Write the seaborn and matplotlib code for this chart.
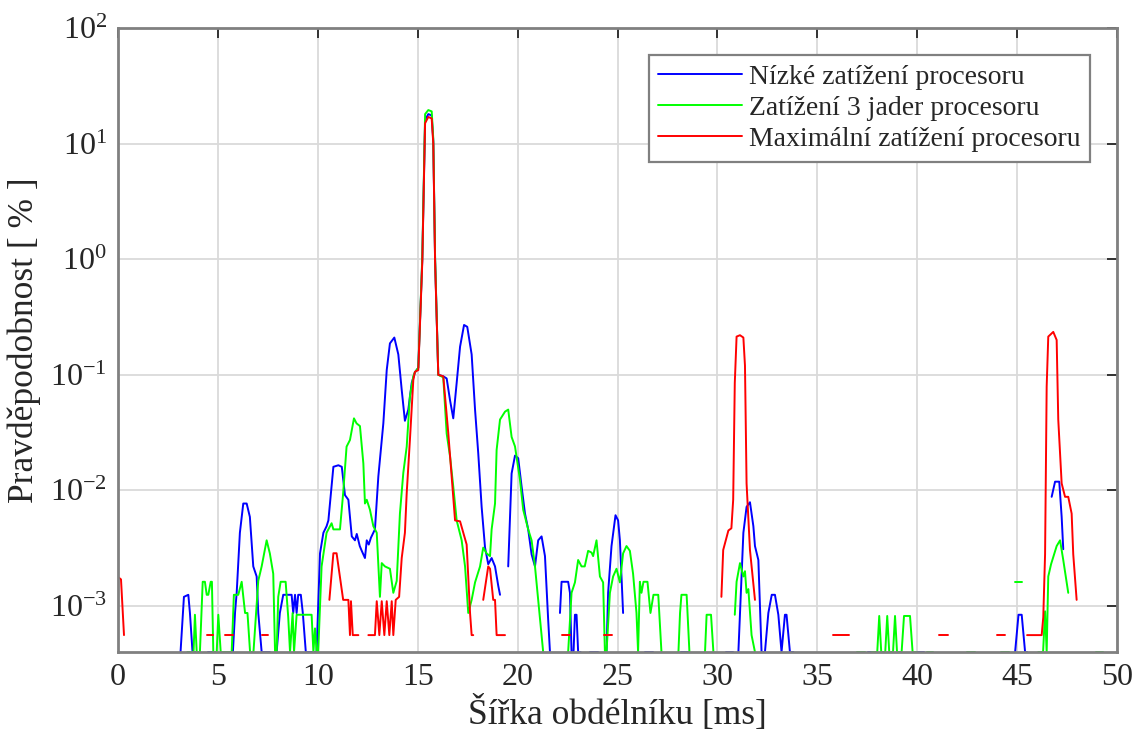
import numpy as np
import pandas as pd
import matplotlib
matplotlib.use("Agg")
import matplotlib.pyplot as plt
import seaborn as sns
from matplotlib.ticker import NullLocator

N = np.nan
FLOOR = 4e-4  # values at/below the lower axis limit

series_names = ["Nízké zatížení procesoru",
                "Zatížení 3 jader procesoru",
                "Maximální zatížení procesoru"]

# ---------------- Nízké zatížení (blue) ----------------
blue_x = [3.13, 3.3, 3.52, 3.6, 3.73, 4.1, N,
          4.52, 4.77, N,
          5.75, 5.86, 5.94, 6.1, 6.27, 6.44, 6.6, 6.77, 6.94, 7.02, 7.19, 7.6, N,
          7.94, 8.1, 8.27, 8.69, 8.77, 8.86, 8.94, 9.02, 9.15, 9.25, 9.4, 9.94,
          10.11, 10.28, 10.44, 10.53, 10.78, 11.03, 11.2, 11.36, 11.53, 11.7, 11.86,
          11.95, 12.03, 12.1, 12.2, 12.36, 12.45, 12.55, 12.66, 12.86, 13.03, 13.28,
          13.45, 13.61, 13.83, 14.03, 14.2, 14.36, 14.53, 14.7, 14.86, 15.03, 15.23,
          15.37, 15.53, 15.7, 15.78, 15.87, 16.03, 16.28, 16.45, 16.62, 16.78, 16.95,
          17.12, 17.32, 17.48, 17.7, 17.87, 18.03, 18.2, 18.37, 18.53, 18.7, 18.87,
          19.03, 19.12, N,
          19.53, 19.7, 19.87, 20.03, 20.2, 20.37, 20.53, 20.7, 20.87, 21.03, 21.2,
          21.37, 21.53, 21.62, N,
          22.12, 22.2, 22.53, 22.62, 22.7, 22.8, 22.87, 22.95, 23.03, 23.15, N,
          23.6, 24.0, N,
          24.45, 24.53, 24.7, 24.9, 25.03, 25.12, 25.2, 25.28, N,
          26.4, 26.8, N,
          28.2, 28.6, N,
          30.45, 30.8, N,
          31.05, 31.3, 31.46, 31.63, 31.8, 31.88, 32.05, 32.21, 32.38, 32.55, 32.72,
          32.88, 33.05, 33.21, 33.38, 33.46, 33.63, 33.8, N,
          37.55, 37.9, N,
          40.0, 40.35, N,
          44.9, 45.07, 45.23, 45.4, 45.5, N,
          46.73, 46.9, 47.11, 47.23, 47.31]
blue_y = [FLOOR, 1.2e-3, 1.25e-3, 8.7e-4, FLOOR, FLOOR, N,
          FLOOR, FLOOR, N,
          FLOOR, 8.9e-4, 1.3e-3, 4.3e-3, 7.7e-3, 7.7e-3, 5.9e-3, 2.2e-3, 1.8e-3, 8.7e-4, FLOOR, FLOOR, N,
          FLOOR, 8.7e-4, 1.25e-3, 1.25e-3, 8.7e-4, 1.25e-3, 8.7e-4, 1.25e-3, 1.25e-3, 8.7e-4, FLOOR, FLOOR,
          2.85e-3, 4.3e-3, 4.9e-3, 5.5e-3, 0.016, 0.0165, 0.016, 9.1e-3, 8.3e-3, 4.0e-3, 3.7e-3,
          4.2e-3, 3.7e-3, 3.3e-3, 3.0e-3, 2.6e-3, 3.7e-3, 3.4e-3, 3.9e-3, 4.6e-3, 0.0132, 0.038,
          0.11, 0.187, 0.21, 0.15, 0.074, 0.04, 0.05, 0.085, 0.105, 0.115, 1.0,
          16.0, 18.0, 17.5, 10.5, 1.0, 0.1, 0.097, 0.093, 0.06, 0.042, 0.085,
          0.175, 0.27, 0.26, 0.15, 0.05, 0.021, 7.2e-3, 3.2e-3, 2.3e-3, 2.6e-3, 2.2e-3,
          1.5e-3, 1.25e-3, N,
          2.2e-3, 0.014, 0.02, 0.019, 0.0108, 6.3e-3, 4.6e-3, 2.8e-3, 2.2e-3, 3.7e-3, 4.0e-3,
          2.7e-3, 7.6e-4, FLOOR, N,
          8.7e-4, 1.62e-3, 1.62e-3, 1.3e-3, FLOOR, FLOOR, 8.4e-4, 8.4e-4, FLOOR, FLOOR, N,
          FLOOR, FLOOR, N,
          FLOOR, 1.3e-3, 3.3e-3, 6.1e-3, 5.5e-3, 3.7e-3, 1.8e-3, 8.7e-4, N,
          FLOOR, FLOOR, N,
          FLOOR, FLOOR, N,
          FLOOR, FLOOR, N,
          FLOOR, 4.3e-3, 7.2e-3, 7.9e-3, 4.9e-3, 3.3e-3, 2.5e-3, FLOOR, FLOOR, 8.7e-4, 1.25e-3,
          1.25e-3, 8.4e-4, FLOOR, 8.4e-4, 8.4e-4, FLOOR, FLOOR, N,
          FLOOR, FLOOR, N,
          FLOOR, FLOOR, N,
          FLOOR, 8.4e-4, 8.4e-4, FLOOR, FLOOR, N,
          8.8e-3, 0.0119, 0.0119, 5.9e-3, 3.1e-3]

# ---------------- Zatížení 3 jader (green) ----------------
green_x = [3.47, 3.78, 3.85, 3.94, 4.1, 4.24, 4.35, 4.44, 4.52, 4.64, 4.7, 4.77, 4.94, 5.02,
           5.14, 5.35, 5.69, 5.8, 6.02, 6.19, 6.36, 6.48, 6.61, 6.78, 7.02, 7.19, 7.44, 7.6,
           7.77, 7.86, 7.94, 8.02, 8.14, 8.39, 8.52, 8.61, 8.74, 8.81, 8.94, 9.69, 9.78, 9.86,
           9.94, 10.02, 10.19, 10.44, 10.69, 10.78, 11.11, 11.27, 11.44, 11.61, 11.81, 11.94,
           12.11, 12.28, 12.36, 12.45, 12.61, 12.78, 12.95, 13.11, 13.2, 13.36, 13.61, 13.78,
           13.95, 14.11, 14.28, 14.45, 14.61, 14.78, 14.86, 15.03, 15.23, 15.37, 15.53, 15.7,
           15.78, 15.87, 16.03, 16.28, 16.45, 16.62, 16.78, 16.95, 17.2, 17.37, 17.53, 17.7,
           17.87, 18.12, 18.28, 18.45, 18.62, 18.7, 18.87, 18.95, 19.12, 19.37, 19.53, 19.7,
           19.87, 20.12, 20.28, 20.53, 20.7, 20.87, 21.03, 21.28, N,
           22.53, 22.7, 22.87, 23.03, 23.2, 23.36, 23.53, 23.7, 23.78, 23.95, 24.12, 24.28,
           24.37, 24.45, 24.62, 24.78, 24.95, 25.12, 25.28, 25.45, 25.62, 25.78, 25.95, 26.03,
           26.12, 26.2, 26.3, 26.5, 26.65, 26.8, 27.04, 27.2, N,
           28.05, 28.13, 28.2, 28.46, 28.6, N,
           29.38, 29.46, 29.68, 29.8, N,
           30.87, 30.96, 31.13, 31.3, 31.38, 31.46, 31.55, 31.71, 31.88, N,
           36.97, 37.4, N,
           37.72, 38.0, 38.1, 38.2, 38.4, 38.5, 38.6, 38.79, 38.89, 38.99, 39.22, 39.34,
           39.64, 39.77, 39.97, N,
           40.47, 40.8, N,
           42.47, 42.9, N,
           44.2, 44.6, N,
           44.9, 45.23, N,
           46.06, 46.3, 46.4, 46.48, 46.56, 46.7, 46.98, 47.15, 47.31, 47.56, N,
           48.97, 49.3]
green_y = [FLOOR, FLOOR, 8.4e-4, FLOOR, FLOOR, 1.62e-3, 1.62e-3, 1.25e-3, 1.25e-3, 1.62e-3, 1.62e-3, FLOOR, FLOOR, 8.4e-4,
           FLOOR, FLOOR, FLOOR, 1.25e-3, 1.25e-3, 1.62e-3, 8.7e-4, 8.7e-4, FLOOR, FLOOR, 1.65e-3, 2.2e-3, 3.7e-3, 2.85e-3,
           1.9e-3, FLOOR, FLOOR, 1.2e-3, 1.62e-3, 1.62e-3, 8.0e-4, FLOOR, 8.7e-4, FLOOR, 8.4e-4, 8.4e-4, FLOOR, 6.4e-4,
           FLOOR, FLOOR, 2.2e-3, 4.3e-3, 5.2e-3, 4.6e-3, 4.6e-3, 9.5e-3, 0.0239, 0.0273, 0.042, 0.038,
           0.036, 0.0171, 7.7e-3, 8.3e-3, 6.8e-3, 4.9e-3, 4.3e-3, 1.2e-3, 2.35e-3, 2.2e-3, 2.1e-3, 1.3e-3,
           1.65e-3, 6.3e-3, 0.0142, 0.0239, 0.065, 0.097, 0.105, 0.115, 1.05, 18.0, 19.5, 19.0,
           11.0, 1.05, 0.1, 0.095, 0.031, 0.0196, 0.0108, 5.5e-3, 3.7e-3, 2.2e-3, 8.7e-4, 1.13e-3,
           1.6e-3, 2.2e-3, 3.2e-3, 2.85e-3, 2.7e-3, 4.6e-3, 7.7e-3, 0.0224, 0.041, 0.048, 0.05, 0.029,
           0.024, 0.0123, 6.8e-3, 4.6e-3, 3.7e-3, 2.2e-3, 1.13e-3, FLOOR, N,
           FLOOR, 1.3e-3, 1.6e-3, 2.5e-3, 2.2e-3, 2.2e-3, 3.0e-3, 2.9e-3, 2.7e-3, 3.7e-3, 1.8e-3, 1.6e-3,
           FLOOR, FLOOR, 1.3e-3, 1.8e-3, 2.1e-3, 1.6e-3, 2.85e-3, 3.3e-3, 3.0e-3, 1.9e-3, 8.7e-4, FLOOR,
           1.62e-3, 1.3e-3, 1.62e-3, 1.62e-3, 8.7e-4, 1.25e-3, 1.25e-3, FLOOR, N,
           FLOOR, 8.7e-4, 1.25e-3, 1.25e-3, FLOOR, N,
           FLOOR, 8.4e-4, 8.4e-4, FLOOR, N,
           8.4e-4, 1.62e-3, 2.35e-3, 1.8e-3, 2.0e-3, 1.3e-3, 1.4e-3, 5.6e-4, FLOOR, N,
           FLOOR, FLOOR, N,
           FLOOR, FLOOR, 8.2e-4, FLOOR, FLOOR, 8.2e-4, FLOOR, FLOOR, 8.2e-4, FLOOR, FLOOR, 8.2e-4,
           8.2e-4, FLOOR, FLOOR, N,
           FLOOR, FLOOR, N,
           FLOOR, FLOOR, N,
           FLOOR, FLOOR, N,
           1.62e-3, 1.62e-3, N,
           FLOOR, FLOOR, 9.0e-4, FLOOR, 1.8e-3, 2.3e-3, 3.3e-3, 3.7e-3, 2.5e-3, 1.3e-3, N,
           FLOOR, FLOOR]

# ---------------- Maximální zatížení (red) ----------------
red_x = [0.0, 0.15, 0.3, N,
         4.45, 4.75, N,
         5.35, 5.75, N,
         7.2, 7.5, N,
         10.58, 10.78, 10.94, 11.27, 11.53, 11.61, 11.66, 11.75, 12.03, N,
         12.53, 12.86, 12.95, 13.08, 13.2, 13.33, 13.45, 13.58, 13.7, 13.78, 13.9, 14.07,
         14.2, 14.36, 14.45, 14.61, 14.78, 14.86, 15.03, 15.23, 15.37, 15.53, 15.7, 15.78,
         15.87, 16.03, 16.28, 16.53, 16.87, 17.12, 17.45, 17.62, 17.7, 17.78, N,
         18.28, 18.53, 18.62, 18.78, 18.87, 18.95, 19.37, N,
         22.2, 22.6, N,
         24.3, 24.7, N,
         30.2, 30.29, 30.55, 30.7, 30.79, 30.87, 30.96, 31.13, 31.3, 31.38, 31.46, 31.63, 31.88, N,
         35.8, 36.6, N,
         41.1, 41.55, N,
         44.0, 44.4, N,
         45.5, 46.23, 46.31, 46.4, 46.48, 46.56, 46.81, 46.98, 47.06, 47.23, 47.4, 47.56,
         47.73, 47.81, 47.98]
red_y = [1.78e-3, 1.7e-3, 5.6e-4, N,
         5.6e-4, 5.6e-4, N,
         5.6e-4, 5.6e-4, N,
         5.6e-4, 5.6e-4, N,
         1.13e-3, 2.86e-3, 2.86e-3, 1.13e-3, 1.13e-3, 5.6e-4, 1.1e-3, 5.6e-4, 5.6e-4, N,
         5.6e-4, 5.6e-4, 1.1e-3, 5.6e-4, 1.1e-3, 5.6e-4, 1.1e-3, 5.6e-4, 1.1e-3, 5.6e-4, 1.13e-3, 1.2e-3,
         2.6e-3, 4.3e-3, 9.5e-3, 0.0273, 0.09, 0.106, 0.11, 0.95, 15.0, 17.0, 16.5, 10.0,
         0.95, 0.1, 0.097, 0.0314, 5.5e-3, 5.4e-3, 3.4e-3, 8.7e-4, 5.6e-4, 5.6e-4, N,
         1.13e-3, 2.2e-3, 2.1e-3, 1.13e-3, 1.13e-3, 5.6e-4, 5.6e-4, N,
         5.6e-4, 5.6e-4, N,
         5.6e-4, 5.6e-4, N,
         1.2e-3, 3.05e-3, 4.5e-3, 4.7e-3, 8.3e-3, 0.085, 0.214, 0.22, 0.21, 0.12, 0.0115, 3.05e-3, 1.13e-3, N,
         5.6e-4, 5.6e-4, N,
         5.6e-4, 5.6e-4, N,
         5.6e-4, 5.6e-4, N,
         5.6e-4, 5.6e-4, 8.0e-4, 2.8e-3, 0.079, 0.214, 0.235, 0.2, 0.041, 0.0115, 8.8e-3, 8.8e-3,
         6.3e-3, 2.8e-3, 1.13e-3]

x_ticks = [0, 5, 10, 15, 20, 25, 30, 35, 40, 45, 50]
y_ticks = [1e-3, 1e-2, 1e-1, 1e0, 1e1, 1e2]
colors = {series_names[0]: "#0000ff", series_names[1]: "#00ff00", series_names[2]: "#ff0000"}


def to_frame(xs, ys, name, seg_start):
    rows = []
    seg = seg_start
    for xv, yv in zip(xs, ys):
        if np.isnan(xv):
            seg += 1
            continue
        rows.append((xv, yv, name, f"{name}-{seg}"))
    return pd.DataFrame(rows, columns=["x", "y", "series", "seg"]), seg + 1


df_b, s = to_frame(blue_x, blue_y, series_names[0], 0)
df_g, s = to_frame(green_x, green_y, series_names[1], s)
df_r, s = to_frame(red_x, red_y, series_names[2], s)
df = pd.concat([df_b, df_g, df_r], ignore_index=True)

sns.set_theme(style="white")
plt.rcParams["font.family"] = ["Liberation Serif", "DejaVu Serif"]
plt.rcParams["mathtext.fontset"] = "stix"

fig = plt.figure(figsize=(11.39, 7.44), dpi=100)
ax = fig.add_axes([118 / 1139, 1 - 652 / 744, (1117 - 118) / 1139, (652 - 28) / 744])
ax.set_yscale("log")

sns.lineplot(data=df, x="x", y="y", hue="series", hue_order=series_names,
             units="seg", estimator=None, palette=colors, linewidth=1.4,
             ax=ax, legend=True)

ax.set_xlim(0, 50)
ax.set_ylim(FLOOR, 100)
ax.set_xticks(x_ticks)
ax.set_xticklabels([str(t) for t in x_ticks])
ax.set_yticks(y_ticks)
ax.yaxis.set_minor_locator(NullLocator())
ax.xaxis.set_minor_locator(NullLocator())
ax.grid(True, which="major", color="#dadada", linewidth=1.3)
ax.set_axisbelow(True)
ax.tick_params(direction="in", top=True, right=True, length=7, width=1.3,
               labelsize=23, colors="#262626", pad=8)
for sp in ax.spines.values():
    sp.set_color("#808080")
    sp.set_linewidth(2.0)

ax.set_xlabel("Šířka obdélníku [ms]", fontsize=25.5, color="#262626", labelpad=3)
ax.set_ylabel("Pravděpodobnost [ % ]", fontsize=25.5, color="#262626", labelpad=6)

handles, labels = ax.get_legend_handles_labels()
leg = ax.legend(handles, labels, loc="upper right", bbox_to_anchor=(0.973, 0.957),
                fontsize=20, frameon=True, fancybox=False, framealpha=1,
                edgecolor="#808080", handlelength=3.0, handletextpad=0.25,
                labelspacing=0.2, borderpad=0.35, borderaxespad=0)
leg.get_frame().set_linewidth(1.6)
for h in leg.get_lines():
    h.set_linewidth(1.4)

fig.savefig("out.png", dpi=100)
